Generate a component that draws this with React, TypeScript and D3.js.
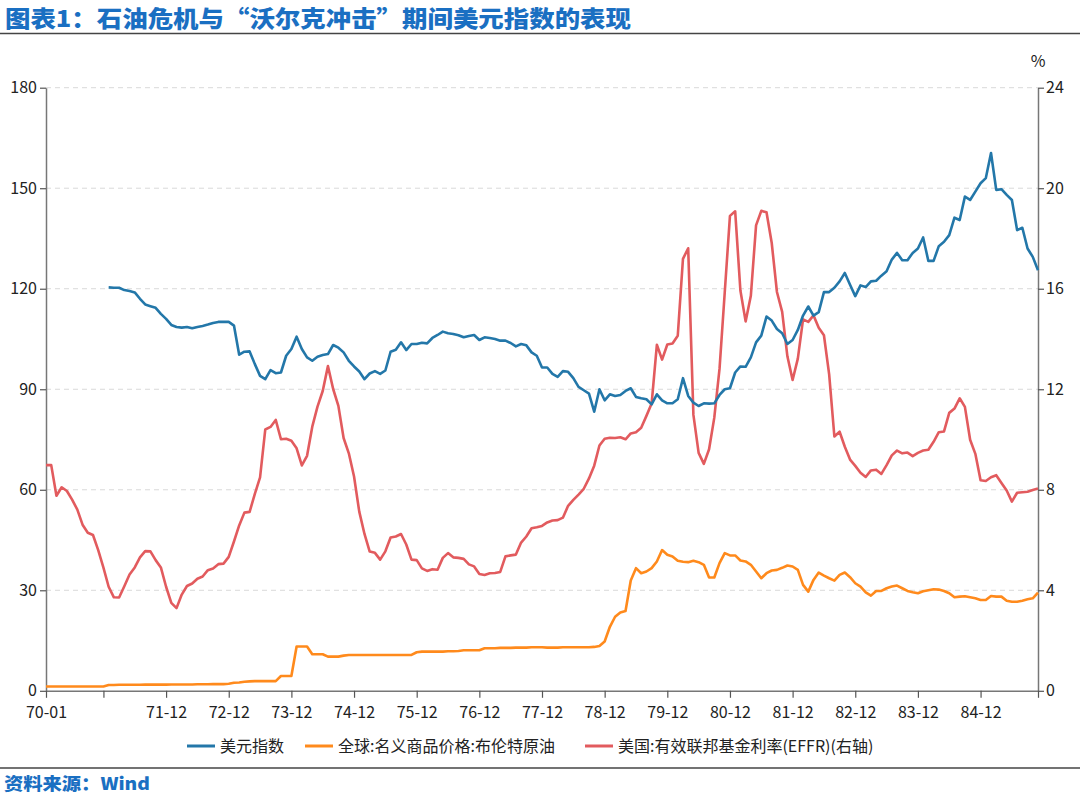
import React, { useEffect, useRef } from "react";
import * as d3 from "d3";

// month index 0 = 1970-01, last = 1985-11
const monthCount = 191;

// x-axis ticks (month index) and their labels
const tickIndex = [0, 11, 23, 35, 47, 59, 71, 83, 95, 107, 119, 131, 143, 155, 167, 179, 190];
const tickLabels = ["70-01", "", "71-12", "72-12", "73-12", "74-12", "75-12", "76-12", "77-12", "78-12", "79-12", "80-12", "81-12", "82-12", "83-12", "84-12", ""];

const leftTicks = [0, 30, 60, 90, 120, 150, 180];
const rightTicks = [0, 4, 8, 12, 16, 20, 24];

// 美元指数, starts 1971-01
const dxyStart = 12;
const dxy = [
  120.4, 120.3, 120.3, 119.6, 119.3, 118.9, 117.0, 115.3, 114.8, 114.3, 112.5, 111.0,
  109.2, 108.6, 108.4, 108.6, 108.2, 108.6, 108.9, 109.3, 109.8, 110.1, 110.1, 110.1,
  109.0, 100.3, 101.2, 101.3, 97.5, 94.0, 93.0, 95.7, 94.8, 95.0, 100.0, 102.0,
  105.7, 102.0, 99.5, 98.5, 99.7, 100.2, 100.5, 103.2, 102.4, 101.0, 98.5, 96.8,
  95.3, 93.0, 94.7, 95.4, 94.6, 95.6, 101.2, 101.8, 104.0, 101.7, 103.5, 103.5,
  103.9, 103.7, 105.3, 106.2, 107.2, 106.7, 106.5, 106.1, 105.5, 105.9, 106.2, 104.7,
  105.5, 105.3, 105.0, 104.5, 104.5, 103.8, 102.8, 103.5, 103.1, 101.0, 100.0, 96.5,
  96.5, 94.6, 93.7, 95.4, 95.2, 93.3, 90.7, 89.7, 88.7, 83.3, 90.0, 86.7,
  88.5, 88.0, 88.3, 89.5, 90.3, 87.7, 87.3, 87.0, 85.5, 88.5, 86.7, 85.8,
  85.8, 87.0, 93.3, 88.0, 86.0, 85.0, 85.8, 85.7, 85.8, 88.3, 90.0, 90.3,
  95.0, 96.8, 96.7, 99.5, 104.0, 106.0, 111.7, 110.5, 108.0, 106.7, 103.5, 104.7,
  107.7, 112.0, 114.7, 112.0, 113.0, 119.0, 119.0, 120.3, 122.2, 124.7, 121.2, 117.8,
  121.0, 120.5, 122.2, 122.4, 123.9, 125.2, 128.7, 130.7, 128.5, 128.5, 130.7, 132.0,
  135.3, 128.3, 128.3, 132.7, 134.0, 136.0, 141.2, 140.5, 147.5, 146.5, 149.0, 151.5,
  153.0, 160.5, 149.5, 149.7, 148.0, 146.5, 137.5, 138.2, 132.0, 129.5, 125.5,
];

// 全球:名义商品价格:布伦特原油
const brent = [
  1.3, 1.3, 1.3, 1.3, 1.3, 1.3, 1.3, 1.3, 1.3, 1.3, 1.3, 1.3,
  1.75, 1.75, 1.8, 1.8, 1.8, 1.8, 1.8, 1.85, 1.85, 1.85, 1.85, 1.85,
  1.9, 1.9, 1.9, 1.9, 1.9, 1.95, 1.95, 1.95, 2.0, 2.0, 2.0, 2.1,
  2.4, 2.5, 2.7, 2.8, 2.9, 2.9, 2.9, 2.9, 2.9, 4.4, 4.4, 4.4,
  13.2, 13.2, 13.2, 10.9, 10.9, 10.9, 10.2, 10.2, 10.2, 10.5, 10.7, 10.7,
  10.7, 10.7, 10.7, 10.7, 10.7, 10.7, 10.7, 10.7, 10.7, 10.7, 10.7, 11.5,
  11.7, 11.7, 11.7, 11.7, 11.7, 11.8, 11.8, 11.9, 12.1, 12.1, 12.1, 12.1,
  12.7, 12.7, 12.7, 12.8, 12.8, 12.8, 12.9, 12.9, 12.9, 13.0, 13.0, 13.0,
  12.9, 12.9, 12.9, 13.0, 13.0, 13.0, 13.0, 13.0, 13.0, 13.1, 13.4, 14.7,
  19.1, 22.1, 23.4, 23.8, 32.9, 36.6, 35.1, 35.6, 36.6, 38.6, 42.0, 40.6,
  40.1, 38.8, 38.5, 38.4, 38.8, 38.4, 37.6, 33.8, 33.8, 38.1, 41.1, 40.4,
  40.4, 38.9, 38.6, 37.6, 35.6, 33.6, 35.1, 35.9, 36.1, 36.7, 37.4, 37.1,
  36.1, 31.6, 29.6, 33.1, 35.3, 34.4, 33.6, 32.9, 34.6, 35.3, 33.9, 32.1,
  31.1, 29.4, 28.4, 29.8, 29.8, 30.6, 31.1, 31.4, 30.6, 29.8, 29.4, 29.1,
  29.7, 30.0, 30.3, 30.2, 29.8, 29.1, 27.9, 28.1, 28.2, 27.9, 27.6, 27.1,
  27.1, 28.3, 28.1, 28.1, 26.9, 26.6, 26.6, 26.9, 27.3, 27.6, 29.3,
];

// 美国:有效联邦基金利率(EFFR), %
const effr = [
  8.98, 8.98, 7.76, 8.10, 7.95, 7.61, 7.21, 6.61, 6.29, 6.20, 5.60, 4.90,
  4.14, 3.72, 3.71, 4.16, 4.63, 4.91, 5.31, 5.56, 5.55, 5.20, 4.91, 4.14,
  3.50, 3.29, 3.83, 4.17, 4.27, 4.46, 4.55, 4.80, 4.87, 5.04, 5.06, 5.33,
  5.94, 6.58, 7.09, 7.12, 7.84, 8.49, 10.40, 10.50, 10.78, 10.01, 10.03, 9.95,
  9.65, 8.97, 9.35, 10.51, 11.31, 11.93, 12.92, 12.01, 11.34, 10.06, 9.45, 8.53,
  7.13, 6.24, 5.54, 5.49, 5.22, 5.55, 6.10, 6.14, 6.24, 5.82, 5.22, 5.20,
  4.87, 4.77, 4.84, 4.82, 5.29, 5.48, 5.31, 5.29, 5.25, 5.03, 4.95, 4.65,
  4.61, 4.68, 4.69, 4.73, 5.35, 5.39, 5.42, 5.90, 6.14, 6.47, 6.51, 6.56,
  6.70, 6.78, 6.79, 6.89, 7.36, 7.60, 7.81, 8.04, 8.45, 8.96, 9.76, 10.03,
  10.07, 10.06, 10.09, 10.01, 10.24, 10.29, 10.47, 10.94, 11.43, 13.77, 13.18, 13.78,
  13.82, 14.13, 17.19, 17.61, 10.98, 9.47, 9.03, 9.61, 10.87, 12.81, 15.85, 18.90,
  19.08, 15.93, 14.70, 15.72, 18.52, 19.10, 19.04, 17.82, 15.87, 15.08, 13.31, 12.37,
  13.22, 14.78, 14.68, 14.94, 14.45, 14.15, 12.59, 10.12, 10.31, 9.71, 9.20, 8.95,
  8.68, 8.51, 8.77, 8.80, 8.63, 8.98, 9.37, 9.56, 9.45, 9.48, 9.34, 9.47,
  9.56, 9.59, 9.91, 10.29, 10.32, 11.06, 11.23, 11.64, 11.30, 9.99, 9.43, 8.38,
  8.35, 8.50, 8.58, 8.27, 7.97, 7.53, 7.88, 7.90, 7.92, 7.99, 8.05,
];

const seriesNames = ["美元指数", "全球:名义商品价格:布伦特原油", "美国:有效联邦基金利率(EFFR)(右轴)"];
const seriesColors = ["#2377a9", "#ff8a1c", "#e25b5e"];

const title = "图表1：石油危机与“沃尔克冲击”期间美元指数的表现";
const source = "资料来源：Wind";

const W = 1080;
const H = 793;
const FONT = "'Liberation Sans Narrow', 'Noto Sans CJK SC', sans-serif";
const CJK = "'Noto Sans CJK SC', sans-serif";

function drawChart(element) {
  d3.select(element).selectAll("*").remove();

  const svg = d3
    .select(element)
    .append("svg")
    .attr("width", W)
    .attr("height", H)
    .style("display", "block")
    .style("background", "#fff");

  const x = d3.scaleLinear().domain([0, monthCount - 1]).range([46, 1038]);
  const yL = d3.scaleLinear().domain([0, 180]).range([690.8, 87.7]);
  const yR = d3.scaleLinear().domain([0, 24]).range([690.8, 87.7]);

  // title and rules (glyphs in the original are a bit wider than tall)
  svg
    .append("text")
    .attr("x", 5)
    .attr("y", 27)
    .attr("font-family", CJK)
    .attr("font-weight", 900)
    .attr("font-size", 23)
    .attr("textLength", 626)
    .attr("lengthAdjust", "spacingAndGlyphs")
    .attr("fill", "#1a6fc2")
    .text(title);
  svg.append("line").attr("x1", 0).attr("x2", W).attr("y1", 33.5).attr("y2", 33.5).attr("stroke", "#444").attr("stroke-width", 1.5);
  svg.append("line").attr("x1", 0).attr("x2", W).attr("y1", 768).attr("y2", 768).attr("stroke", "#444").attr("stroke-width", 1.5);
  svg
    .append("text")
    .attr("x", 4)
    .attr("y", 789.5)
    .attr("font-family", CJK)
    .attr("font-weight", 900)
    .attr("font-size", 17.5)
    .attr("textLength", 146)
    .attr("lengthAdjust", "spacingAndGlyphs")
    .attr("fill", "#1a6fc2")
    .text(source);

  // grid
  svg
    .append("g")
    .selectAll("line")
    .data(leftTicks.filter((d) => d > 0))
    .join("line")
    .attr("x1", 46)
    .attr("x2", 1038)
    .attr("y1", (d) => yL(d))
    .attr("y2", (d) => yL(d))
    .attr("stroke", "#d9d9d9")
    .attr("stroke-dasharray", "5,4");

  // left axis
  const gl = svg.append("g").attr("transform", "translate(46,0)").call(d3.axisLeft(yL).tickValues(leftTicks).tickSize(6).tickSizeOuter(0));
  gl.select(".domain").attr("stroke", "#777").attr("stroke-width", 1.5);
  gl.selectAll(".tick line").attr("stroke", "#555").attr("stroke-width", 1.2);
  gl.selectAll(".tick text").attr("font-family", FONT).attr("font-size", 16).attr("fill", "#222").attr("x", -9);

  // right axis
  const gr = svg.append("g").attr("transform", "translate(1038,0)").call(d3.axisRight(yR).tickValues(rightTicks).tickSize(6).tickSizeOuter(0));
  gr.select(".domain").attr("stroke", "#777").attr("stroke-width", 1.5);
  gr.selectAll(".tick line").attr("stroke", "#555").attr("stroke-width", 1.2);
  gr.selectAll(".tick text").attr("font-family", FONT).attr("font-size", 16).attr("fill", "#222").attr("x", 8);
  svg.append("text").attr("x", 1038).attr("y", 67).attr("text-anchor", "middle").attr("font-family", FONT).attr("font-size", 16).attr("fill", "#222").text("%");

  // bottom axis
  const gb = svg
    .append("g")
    .attr("transform", "translate(0," + yL(0) + ")")
    .call(
      d3
        .axisBottom(x)
        .tickValues(tickIndex)
        .tickFormat((d, i) => tickLabels[i])
        .tickSize(7)
        .tickSizeOuter(0)
    );
  gb.select(".domain").attr("stroke", "#777").attr("stroke-width", 1.5);
  gb.selectAll(".tick line").attr("stroke", "#555").attr("stroke-width", 1.2);
  gb.selectAll(".tick text").attr("font-family", FONT).attr("font-size", 16).attr("fill", "#222").attr("y", 16);

  // lines
  const lineL = d3
    .line()
    .x((d) => x(d[0]))
    .y((d) => yL(d[1]));
  const lineR = d3
    .line()
    .x((d) => x(d[0]))
    .y((d) => yR(d[1]));

  const dxyPts = dxy.map((v, i) => [i + dxyStart, v]);
  const brentPts = brent.map((v, i) => [i, v]);
  const effrPts = effr.map((v, i) => [i, v]);

  svg.append("path").datum(brentPts).attr("fill", "none").attr("stroke", seriesColors[1]).attr("stroke-width", 2.6).attr("stroke-linejoin", "round").attr("d", lineL);
  svg.append("path").datum(effrPts).attr("fill", "none").attr("stroke", seriesColors[2]).attr("stroke-width", 2.6).attr("stroke-linejoin", "round").attr("d", lineR);
  svg.append("path").datum(dxyPts).attr("fill", "none").attr("stroke", seriesColors[0]).attr("stroke-width", 2.6).attr("stroke-linejoin", "round").attr("d", lineL);

  // legend
  const legendX = [187, 305, 585];
  const lg = svg.append("g");
  seriesNames.forEach((name, i) => {
    lg.append("line")
      .attr("x1", legendX[i])
      .attr("x2", legendX[i] + 28)
      .attr("y1", 746)
      .attr("y2", 746)
      .attr("stroke", seriesColors[i])
      .attr("stroke-width", 3);
    lg.append("text")
      .attr("x", legendX[i] + 33)
      .attr("y", 752)
      .attr("font-family", FONT)
      .attr("font-size", 16)
      .attr("fill", "#222")
      .text(name);
  });
}

export default function App() {
  const ref = useRef(null);
  useEffect(() => {
    document.body.style.margin = "0";
    drawChart(ref.current);
  }, []);
  return <div ref={ref} />;
}
